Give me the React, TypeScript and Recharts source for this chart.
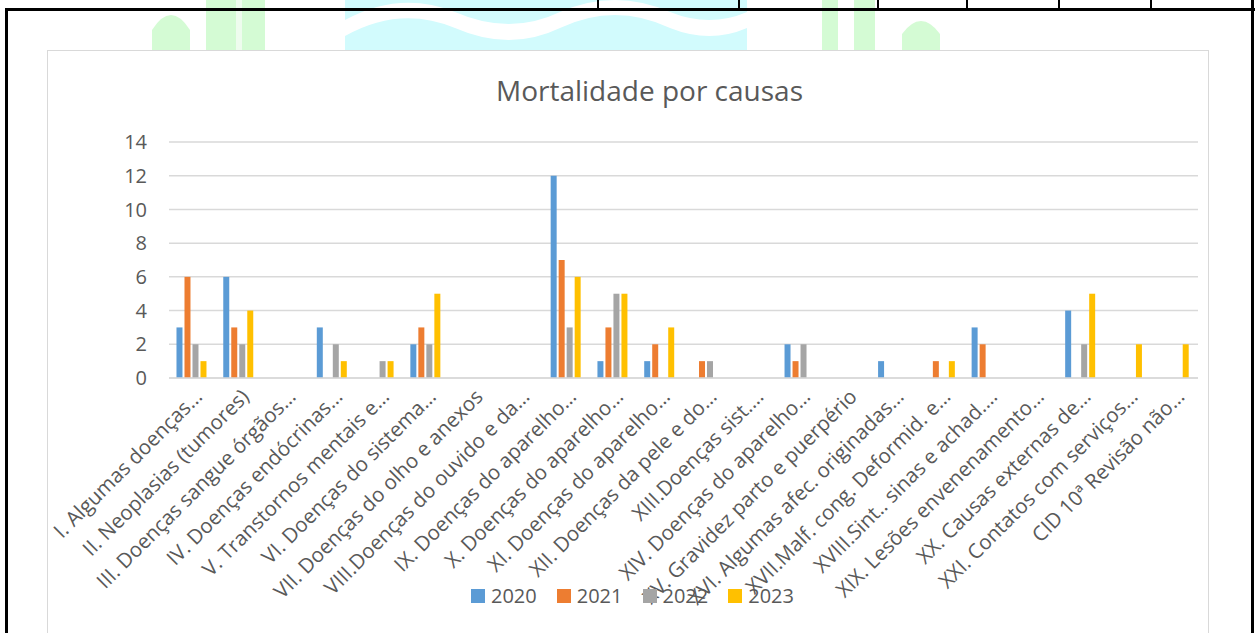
import React from "react";
import {
  BarChart,
  Bar,
  XAxis,
  YAxis,
  CartesianGrid,
  Legend,
} from "recharts";

const categories = [
  "I. Algumas doenças…",
  "II. Neoplasias (tumores)",
  "III. Doenças sangue órgãos…",
  "IV. Doenças endócrinas…",
  "V. Transtornos mentais e…",
  "VI. Doenças do sistema…",
  "VII. Doenças do olho e anexos",
  "VIII.Doenças do ouvido e da…",
  "IX. Doenças do aparelho…",
  "X. Doenças do aparelho…",
  "XI. Doenças do aparelho…",
  "XII. Doenças da pele e do…",
  "XIII.Doenças sist.…",
  "XIV. Doenças do aparelho…",
  "XV. Gravidez parto e puerpério",
  "XVI. Algumas afec. originadas…",
  "XVII.Malf. cong. Deformid. e…",
  "XVIII.Sint.. sinas e achad.…",
  "XIX. Lesões envenenamento…",
  "XX. Causas externas de…",
  "XXI. Contatos com serviços…",
  "CID 10ª Revisão não…",
];

const v2020 = [3, 6, 0, 3, 0, 2, 0, 0, 12, 1, 1, 0, 0, 2, 0, 1, 0, 3, 0, 4, 0, 0];
const v2021 = [6, 3, 0, 0, 0, 3, 0, 0, 7, 3, 2, 1, 0, 1, 0, 0, 1, 2, 0, 0, 0, 0];
const v2022 = [2, 2, 0, 2, 1, 2, 0, 0, 3, 5, 0, 1, 0, 2, 0, 0, 0, 0, 0, 2, 0, 0];
const v2023 = [1, 4, 0, 1, 1, 5, 0, 0, 6, 5, 3, 0, 0, 0, 0, 0, 1, 0, 0, 5, 2, 2];

const yTicks = [0, 2, 4, 6, 8, 10, 12, 14];

const series = [
  { key: "2020", color: "#5B9BD5", values: v2020 },
  { key: "2021", color: "#ED7D31", values: v2021 },
  { key: "2022", color: "#A5A5A5", values: v2022 },
  { key: "2023", color: "#FFC000", values: v2023 },
];

const rows = categories.map((name, i) => {
  const row: Record<string, any> = { name };
  series.forEach((s) => (row[s.key] = s.values[i]));
  return row;
});

const FONT = "'Open Sans', 'DejaVu Sans', sans-serif";
const TEXT = "#595959";

function CatTick(props: any) {
  const { x, y, payload } = props;
  return (
    <g transform={`translate(${x + 6},${y + 15})`}>
      <text
        textAnchor="end"
        transform="rotate(-45)"
        fontSize={20.5}
        fill={TEXT}
        fontFamily={FONT}
        dy="0.35em"
      >
        {payload.value}
      </text>
    </g>
  );
}

function LegendBox(props: any) {
  const items = props.payload ?? [];
  return (
    <div style={{ display: "flex", justifyContent: "center", gap: 20 }}>
      {items.map((p: any) => (
        <div key={p.value} style={{ display: "flex", alignItems: "center" }}>
          <span
            style={{
              display: "inline-block",
              width: 14,
              height: 14,
              background: p.color,
              marginRight: 6,
            }}
          />
          <span style={{ fontSize: 20, color: TEXT, fontFamily: FONT, lineHeight: "24px" }}>
            {p.value}
          </span>
        </div>
      ))}
    </div>
  );
}

// watermark + table borders behind the chart
function Page() {
  return (
    <svg width={1259} height={633} style={{ position: "absolute", left: 0, top: 0 }}>
      <path d="M152 52 L152 30 Q171 0 190 30 L190 52 Z" fill="#d4fbd4" />
      <path d="M206 52 L206 0 L265 0 L265 52 Z" fill="#d4fbd4" />
      <rect x={236} y={0} width={6} height={52} fill="#eefcee" />
      <rect x={345} y={0} width={402} height={52} fill="#d2fbfd" />
      <path
        d="M345 36 Q400 5 455 28 Q510 52 560 28 Q615 2 670 28 Q710 44 747 28 L747 12 Q710 28 670 12 Q615 -12 560 12 Q510 36 455 12 Q400 -10 345 20 Z"
        fill="#ffffff"
      />
      <rect x={822} y={0} width={16} height={52} fill="#d4fbd4" />
      <rect x={854} y={0} width={21} height={52} fill="#d4fbd4" />
      <path d="M902 52 L902 34 Q921 8 940 34 L940 52 Z" fill="#d4fbd4" />
      <rect x={5} y={8} width={1250} height={3} fill="#000" />
      <rect x={5} y={8} width={3} height={625} fill="#000" />
      <rect x={1251} y={0} width={3} height={633} fill="#000" />
      {[598, 739, 878, 967, 1059, 1151].map((x) => (
        <rect key={x} x={x - 1} y={0} width={2} height={10} fill="#000" />
      ))}
    </svg>
  );
}

export default function App() {
  return (
    <div style={{ position: "absolute", left: 0, top: 0, width: 1259, height: 633, background: "#fff", overflow: "hidden" }}>
      <Page />
      <div
        style={{
          position: "absolute",
          left: 47,
          top: 50,
          width: 1160,
          height: 620,
          background: "#fff",
          border: "1px solid #d9d9d9",
        }}
      />
      <div
        style={{
          position: "absolute",
          left: 0,
          top: 71,
          width: 1259,
          textAlign: "center",
          fontFamily: FONT,
          fontSize: 28,
          color: TEXT,
        }}
      >
        <span style={{ position: "relative", left: 20 }}>Mortalidade por causas</span>
      </div>
      <div style={{ position: "absolute", left: 0, top: 0 }}>
        <BarChart
          width={1259}
          height={633}
          data={rows}
          margin={{ top: 142, right: 61, bottom: 0, left: 0 }}
          barCategoryGap="16%"
          barGap={2}
        >
          <CartesianGrid vertical={false} stroke="#d9d9d9" strokeWidth={1.5} />
          <XAxis
            dataKey="name"
            interval={0}
            tickLine={false}
            tickSize={0}
            tickMargin={0}
            axisLine={{ stroke: "#d9d9d9", strokeWidth: 1.5 }}
            tick={<CatTick />}
            height={231}
          />
          <YAxis
            width={169}
            domain={[0, 14]}
            ticks={yTicks}
            axisLine={false}
            tickLine={false}
            tickSize={0}
            tickMargin={22}
            tick={{ fontSize: 20, fill: TEXT, fontFamily: FONT }}
          />
          <Legend
            content={<LegendBox />}
            wrapperStyle={{ position: "absolute", top: 584, left: 3, width: 1259 }}
          />
          {series.map((s) => (
            <Bar key={s.key} dataKey={s.key} fill={s.color} isAnimationActive={false} />
          ))}
        </BarChart>
      </div>
    </div>
  );
}
